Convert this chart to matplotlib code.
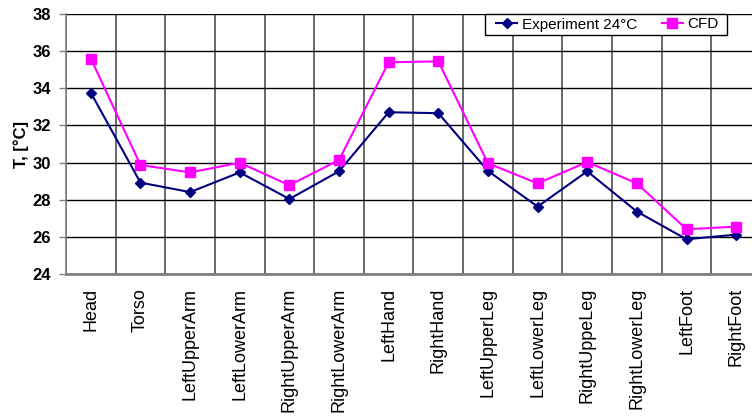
import matplotlib
matplotlib.use("Agg")
import matplotlib.pyplot as plt
from matplotlib.patches import Rectangle
import numpy as np

segments = ["Head", "Torso", "LeftUpperArm", "LeftLowerArm", "RightUpperArm",
            "RightLowerArm", "LeftHand", "RightHand", "LeftUpperLeg",
            "LeftLowerLeg", "RightUppeLeg", "RightLowerLeg", "LeftFoot", "RightFoot"]
experiment = [33.76, 28.92, 28.41, 29.47, 28.04, 29.53, 32.71, 32.66,
              29.55, 27.63, 29.53, 27.36, 25.87, 26.12]
cfd = [35.6, 29.87, 29.47, 29.99, 28.78, 30.14, 35.4, 35.45,
       29.96, 28.88, 30.03, 28.88, 26.41, 26.55]
y_ticks = [24, 26, 28, 30, 32, 34, 36, 38]

plt.rcParams["font.family"] = ["Liberation Sans", "DejaVu Sans"]

W, H = 752, 416
fig = plt.figure(figsize=(W / 100, H / 100), dpi=100)
ax = fig.add_axes([66 / W, 1 - 274 / H, 695 / W, 260 / H])

x = np.arange(len(segments))
ax.plot(x, experiment, color="#000080", lw=1.5, marker="D", ms=5,
        label="Experiment 24°C", zorder=3)
ax.plot(x, cfd, color="#FF00FF", lw=1.5, marker="s", ms=7,
        label="CFD", zorder=3)

ax.set_xlim(-0.5, len(segments) - 0.5)
ax.set_ylim(24, 38)
ax.set_yticks(y_ticks)
ax.set_yticklabels([str(t) for t in y_ticks], fontsize=12, fontweight="bold")
ax.set_xticks(x)
ax.set_xticklabels(segments, rotation=90, fontsize=13)
ax.set_xticks(np.arange(-0.5, len(segments), 1), minor=True)
ax.tick_params(axis="x", which="both", length=0, pad=10)
ax.tick_params(axis="y", length=5, width=1, color="#808080", pad=6)

ax.grid(axis="y", color="black", lw=1)
ax.grid(axis="x", which="minor", color="#505050", lw=1.2)
ax.set_axisbelow(True)

for side in ("top", "right"):
    ax.spines[side].set_visible(False)
ax.spines["left"].set_color("#808080")
ax.spines["left"].set_linewidth(1.2)
ax.spines["bottom"].set_color("#808080")
ax.spines["bottom"].set_linewidth(2)

ax.set_ylabel("T, [°C]", fontsize=12, fontweight="bold", labelpad=2)

# legend box with a fixed frame
frame = Rectangle((485 / W, 1 - 35 / H), 242 / W, 21 / H,
                  transform=fig.transFigure, facecolor="white",
                  edgecolor="black", lw=1, zorder=5)
fig.add_artist(frame)
handles, labels = ax.get_legend_handles_labels()
leg = fig.legend(handles, labels, loc="center left",
                 bbox_to_anchor=(496 / W, 1 - 24.5 / H),
                 bbox_transform=fig.transFigure, ncol=2, frameon=False,
                 fontsize=11, borderpad=0, handlelength=1.4, columnspacing=1.6,
                 handletextpad=0.3, borderaxespad=0)
leg.set_zorder(6)

fig.savefig("out.png", dpi=100)
